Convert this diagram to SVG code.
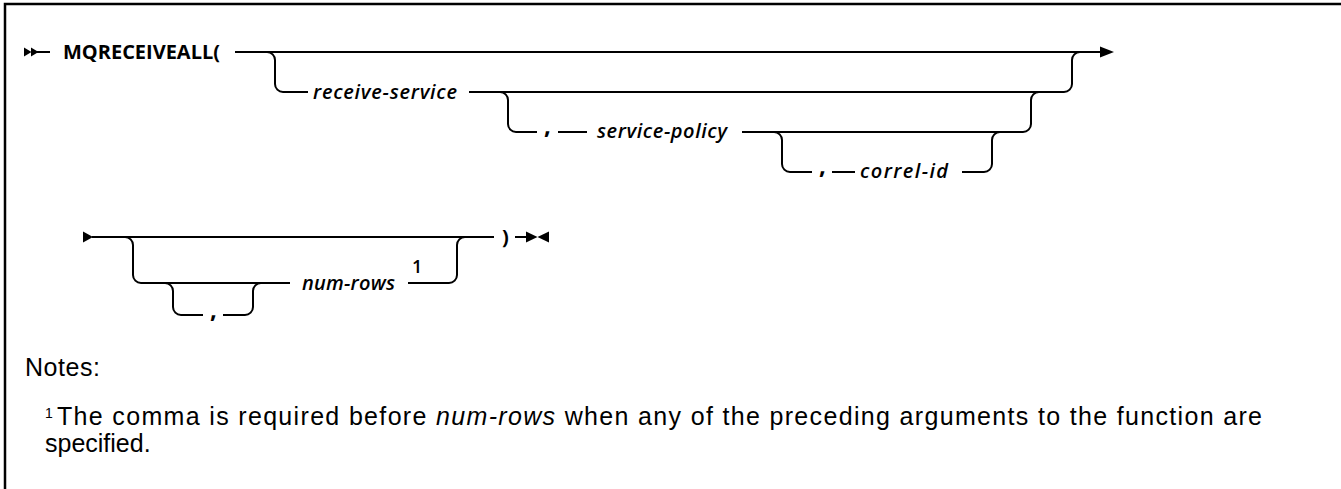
<svg xmlns="http://www.w3.org/2000/svg" width="1341" height="489" viewBox="0 0 1341 489">
<style>
text { font-family: "Open Sans", "Noto Sans", "Liberation Sans", sans-serif; fill: #000; }
.kw { font-weight: 700; font-size: 20px; }
.var { font-style: italic; font-weight: 600; font-size: 20px; }
.cm { font-weight: 700; font-size: 24px; }
.sup { font-weight: 600; font-size: 18px; }
.note { font-family: "Liberation Sans", Arial, sans-serif; font-size: 25px; font-weight: 400; }
.nsup { font-family: "Liberation Sans", Arial, sans-serif; font-size: 14px; font-weight: 400; }
.ln { fill: none; stroke: #000; stroke-width: 2; }
.tri { fill: #000; stroke: none; }
.frame { fill: none; stroke: #000; stroke-width: 2.5; }
</style>
<rect width="1341" height="489" fill="#fff"/>
<path class="frame" d="M5,489 V4 H1341"/>

<g id="connectors">
  <polygon class="tri" points="24,47.5 31.5,52 24,56.5"/>
  <polygon class="tri" points="31,47.5 38.5,52 31,56.5"/>
  <path class="ln" d="M37,52 H50"/>
  <path class="ln" d="M235,52 H1101"/>
  <polygon class="tri" points="1100,46.5 1114,52 1100,57.5"/>
  <path class="ln" d="M267,52 A8,8 0 0 1 275,60 V84 A8,8 0 0 0 283,92 H308"/>
  <path class="ln" d="M469,92 H1064 A8,8 0 0 0 1072,84 V60 A8,8 0 0 1 1080,52"/>
  <path class="ln" d="M500,92 A8,8 0 0 1 508,100 V124 A8,8 0 0 0 516,132 H537"/>
  <path class="ln" d="M558,132 H587"/>
  <path class="ln" d="M742,132 H1023 A8,8 0 0 0 1031,124 V100 A8,8 0 0 1 1039,92"/>
  <path class="ln" d="M774,132 A8,8 0 0 1 782,140 V164 A8,8 0 0 0 790,172 H812"/>
  <path class="ln" d="M832,172 H855"/>
  <path class="ln" d="M962,172 H984 A8,8 0 0 0 992,164 V140 A8,8 0 0 1 1000,132"/>

  <polygon class="tri" points="83,231.5 93,237 83,242.5"/>
  <path class="ln" d="M92,237 H494"/>
  <path class="ln" d="M125,237 A8,8 0 0 1 133,245 V275 A8,8 0 0 0 141,283 H290"/>
  <path class="ln" d="M165,283 A8,8 0 0 1 173,291 V307 A8,8 0 0 0 181,315 H203"/>
  <path class="ln" d="M223,315 H245 A8,8 0 0 0 253,307 V291 A8,8 0 0 1 261,283"/>
  <path class="ln" d="M408,283 H449 A8,8 0 0 0 457,275 V245 A8,8 0 0 1 465,237"/>
  <path class="ln" d="M515,237 H527"/>
  <polygon class="tri" points="526,231.5 537.5,237 526,242.5"/>
  <polygon class="tri" points="549,231.5 537.5,237 549,242.5"/>
</g>

<g id="n-mqreceiveall"><text class="kw" x="63" y="59" textLength="157" lengthAdjust="spacing">MQRECEIVEALL(</text></g>
<g id="n-receive-service"><text class="var" x="313" y="99" textLength="144" lengthAdjust="spacing">receive-service</text></g>
<g id="n-comma1"><text class="cm" x="544" y="134">,</text></g>
<g id="n-service-policy"><text class="var" x="597" y="138" textLength="130" lengthAdjust="spacing">service-policy</text></g>
<g id="n-comma2"><text class="cm" x="819" y="174">,</text></g>
<g id="n-correl-id"><text class="var" x="860" y="178" textLength="88" lengthAdjust="spacing">correl-id</text></g>
<g id="n-comma3"><text class="cm" x="210" y="318">,</text></g>
<g id="n-num-rows"><text class="var" x="302" y="290" textLength="93" lengthAdjust="spacing">num-rows</text></g>
<g id="n-note-ref"><text class="sup" x="412" y="273">1</text></g>
<g id="n-rparen"><text class="kw" x="502" y="244">)</text></g>

<g id="notes">
  <text class="note" x="25" y="376" textLength="75" lengthAdjust="spacing">Notes:</text>
  <text class="nsup" x="45" y="418">1</text>
  <text class="note" x="57" y="425" textLength="1205" lengthAdjust="spacing">The comma is required before <tspan font-style="italic">num-rows</tspan> when any of the preceding arguments to the function are</text>
  <text class="note" x="45" y="452">specified.</text>
</g>
</svg>
